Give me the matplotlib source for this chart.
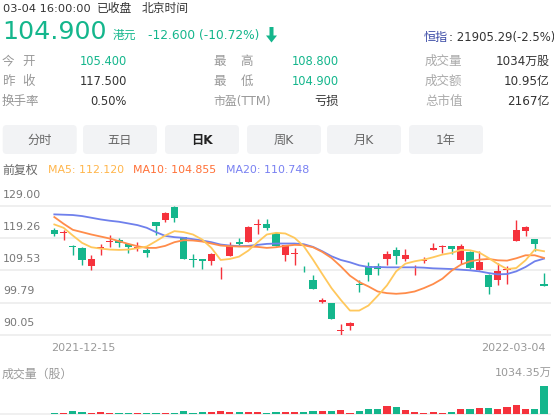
import numpy as np
import matplotlib.pyplot as plt
from matplotlib.patches import FancyBboxPatch

plt.rcParams['font.family'] = ['DejaVu Sans', 'Noto Sans CJK SC']

# daily candles, 2021-12-15 .. 2022-03-04
opens = [121.61, 120.75, 116.86, 116.35, 110.99, 116.25, 118.07, 118.78, 117.56, 116.25,
         115.74, 124.04, 124.85, 128.60, 119.59, 113.01, 112.91, 112.50, 108.36, 114.02,
         118.17, 118.27, 123.33, 123.64, 120.80, 114.33, 114.43, 110.08, 106.74, 100.06,
         99.86, 91.25, 92.87, 105.32, 110.78, 110.78, 113.11, 115.84, 113.01, 109.87,
         112.30, 115.84, 116.55, 116.86, 112.81, 115.03, 109.77, 108.26, 106.74, 109.77,
         118.58, 121.31, 119.18, 105.40]
highs = [122.22, 121.71, 117.36, 116.76, 114.33, 117.56, 120.20, 119.39, 117.77, 118.17,
         116.35, 124.24, 127.28, 129.00, 119.59, 114.53, 112.91, 114.83, 110.48, 118.17,
         119.39, 122.93, 125.15, 125.15, 121.11, 117.36, 116.35, 110.99, 108.05, 101.37,
         99.86, 93.28, 94.09, 106.74, 112.00, 111.80, 115.34, 116.55, 116.15, 111.29,
         113.52, 117.87, 117.36, 117.06, 117.67, 115.34, 115.34, 108.46, 111.80, 110.78,
         124.65, 122.93, 119.18, 108.80]
lows = [119.99, 118.68, 114.12, 111.09, 109.57, 114.33, 116.65, 116.55, 114.83, 115.34,
        113.62, 120.20, 124.24, 124.24, 113.11, 110.58, 110.08, 111.09, 106.94, 113.82,
        117.16, 118.07, 120.40, 121.71, 116.86, 112.50, 111.29, 108.96, 103.90, 99.86,
        94.90, 90.05, 91.56, 102.89, 106.43, 108.05, 111.29, 111.49, 112.30, 108.26,
        111.69, 115.64, 114.83, 114.63, 111.49, 109.97, 109.77, 102.49, 105.22, 105.52,
        118.58, 119.89, 115.34, 104.90]
closes = [120.40, 120.85, 116.65, 112.61, 113.01, 116.45, 118.27, 117.77, 116.55, 116.45,
          114.93, 122.83, 126.98, 125.46, 113.11, 112.81, 112.30, 114.53, 108.56, 117.26,
          117.46, 122.73, 123.54, 122.22, 116.86, 117.16, 114.63, 109.87, 104.00, 100.67,
          94.90, 91.45, 93.58, 105.12, 108.26, 110.08, 114.53, 113.82, 114.33, 110.08,
          112.81, 116.35, 116.76, 116.05, 117.06, 110.28, 112.00, 104.41, 109.27, 110.08,
          121.82, 122.52, 117.50, 104.90]
# volume in 万股
volumes = [24, 48, 121, 60, 36, 60, 36, 24, 48, 24,
           24, 24, 24, 24, 121, 24, 60, 60, 121, 60,
           60, 85, 85, 48, 73, 85, 61, 73, 110, 110,
           110, 134, 37, 122, 195, 195, 304, 268, 146, 61,
           37, 73, 37, 73, 170, 170, 219, 219, 183, 243,
           329, 183, 195, 1034.35]
ma5 = [123.43, 122.42, 120.09, 117.87, 116.55, 116.15, 115.84, 115.74, 115.84, 116.25,
       116.76, 118.37, 120.09, 121.41, 121.11, 120.40, 118.88, 116.35, 112.71, 113.01,
       113.72, 115.54, 118.07, 120.40, 120.90, 120.70, 119.39, 116.86, 112.81, 108.46,
       104.21, 100.67, 97.43, 97.43, 98.95, 101.88, 105.02, 109.27, 111.59, 112.30,
       112.81, 113.52, 114.33, 114.83, 115.74, 115.64, 114.93, 113.31, 111.49, 109.97,
       110.28, 112.61, 115.84, 115.34]
ma10 = [125.66, 123.64, 121.81, 121.11, 120.40, 119.79, 119.18, 118.37, 117.56, 116.86,
        116.35, 116.35, 116.96, 118.07, 118.68, 118.58, 118.27, 117.67, 117.06, 116.86,
        116.76, 116.76, 116.65, 116.35, 116.55, 116.96, 117.26, 117.16, 116.55, 115.14,
        113.31, 110.78, 107.95, 106.03, 104.71, 103.19, 102.69, 102.49, 102.69, 103.19,
        104.21, 105.42, 107.04, 109.47, 111.29, 112.30, 112.81, 113.01, 112.61, 112.50,
        113.21, 114.12, 114.12, 113.31]
ma20 = [126.47, 126.37, 126.27, 125.96, 125.46, 124.95, 124.55, 124.24, 123.74, 123.23,
        122.42, 121.11, 119.99, 119.59, 119.39, 118.98, 118.58, 118.07, 117.36, 117.06,
        116.86, 116.96, 117.26, 117.56, 117.67, 117.67, 117.67, 117.46, 116.65, 115.34,
        113.82, 112.71, 112.00, 111.09, 110.58, 110.58, 110.48, 110.48, 110.48, 110.48,
        110.38, 110.18, 110.08, 109.97, 109.77, 109.57, 109.27, 108.76, 108.36, 108.46,
        109.27, 110.58, 112.30, 113.11]
price_ticks = [129.00, 119.26, 109.53, 99.79, 90.05]
first_date, last_date = '2021-12-15', '2022-03-04'
buttons = ['分时', '五日', '日K', '周K', '月K', '1年']

RED = '#F5323C'
GREEN = '#14B68C'
GRAY = '#999999'
DARK = '#333333'
W, H = 554, 417

fig = plt.figure(figsize=(W / 100, H / 100), dpi=100)
bg = fig.add_axes([0, 0, 1, 1])
bg.set_xlim(0, W)
bg.set_ylim(H, 0)
bg.axis('off')

def frame(top, bottom, right=550):
    return [0, 1 - bottom / H, right / W, (bottom - top) / H]

def txt(x, y, s, size=8.5, color=DARK, ha='left', **kw):
    bg.text(x, y, s, fontsize=size, color=color, ha=ha, va='center', **kw)

# header
txt(3, 8.5, '03-04 16:00:00', 8.2)
txt(97, 8.5, '已收盘', 8.5)
txt(142, 8.5, '北京时间', 8.5)
txt(2, 32, '104.900', 18.3, GREEN)
txt(113, 35, '港元', 8.5, GREEN)
txt(148, 35, '-12.600 (-10.72%)', 8.8, GREEN)
bg.arrow(271.5, 27, 0, 8.5, width=4, head_width=11, head_length=7,
         length_includes_head=False, color=GREEN, lw=0)
txt(424, 37, '恒指', 8.7, '#3B4BA6')
txt(449, 37, ': 21905.29(-2.5%)', 8.4)

rows = [61.5, 81.5, 101.5]
for y, lab, val, vc in [(rows[0], '今开', '105.400', GREEN), (rows[1], '昨收', '117.500', DARK)]:
    txt(2, y, lab[0], 9, GRAY)
    txt(35, y, lab[1], 9, GRAY, ha='right')
    txt(127, y, val, 8.3, vc, ha='right')
txt(2, rows[2], '换手率', 9, GRAY)
txt(127, rows[2], '0.50%', 8.3, DARK, ha='right')
for y, lab, val, vc in [(rows[0], '最高', '108.800', GREEN), (rows[1], '最低', '104.900', GREEN)]:
    txt(213, y, lab[0], 9, GRAY)
    txt(253, y, lab[1], 9, GRAY, ha='right')
    txt(339, y, val, 8.3, vc, ha='right')
txt(213, rows[2], '市盈(TTM)', 8.6, GRAY)
txt(339, rows[2], '亏损', 8.8, DARK, ha='right')
for y, lab, val in [(rows[0], '成交量', '1034万股'), (rows[1], '成交额', '10.95亿'), (rows[2], '总市值', '2167亿')]:
    txt(425, y, lab, 9, '#AAAAAA')
    txt(550, y, val, 8.6, DARK, ha='right')

# period buttons
bx = [2.7, 83, 165, 247, 327, 409]
for x0, lab in zip(bx, buttons):
    bg.add_patch(FancyBboxPatch((x0, 125), 74, 29, boxstyle='round,pad=0,rounding_size=4',
                                fc='#F2F3F5', ec='none'))
    if lab == '日K':
        txt(x0 + 37, 140.5, lab, 8.8, '#222222', ha='center', fontweight='bold')
    else:
        txt(x0 + 37, 140.5, lab, 8.8, '#666666', ha='center')

# MA legend
txt(2, 170, '前复权', 8.6, '#666666')
txt(48, 170, 'MA5: 112.120', 7.9, '#FFB54A')
txt(133, 170, 'MA10: 104.855', 7.9, '#FF7037')
txt(226, 170, 'MA20: 110.748', 7.9, '#7880F2')

# candle chart
x = np.arange(len(opens))
o, hi, lo, c = map(np.array, (opens, highs, lows, closes))
cols = [RED if cc >= oo else GREEN for oo, cc in zip(o, c)]

ax = fig.add_axes(frame(206, 335))
ax.patch.set_alpha(0)
ax.set_xlim(-5.88, 53.65)
ax.set_ylim(price_ticks[-1], price_ticks[0])
ax.axis('off')
for v in price_ticks:
    ax.axhline(v, color='#EFEFEF', lw=1.4, zorder=0, clip_on=False)
    ax.annotate(f'{v:.2f}', xy=(0, v), xycoords=('axes fraction', 'data'),
                xytext=(3, 11.5), textcoords='offset pixels', va='center',
                fontsize=7.9, color='#777777')
ax.vlines(x, lo, hi, colors=cols, lw=1, zorder=2)
body = np.maximum(np.abs(c - o), 0.25)
ax.bar(x, body, bottom=np.minimum(o, c), width=0.78, color=cols, lw=0, zorder=2)
ax.plot(x, ma20, color='#6F80EC', lw=1.3, zorder=3)
ax.plot(x, ma10, color='#FF8C4A', lw=1.3, zorder=3)
ax.plot(x, ma5, color='#FFC85C', lw=1.3, zorder=3)

txt(51, 348, first_date, 8, GRAY)
txt(546, 348, last_date, 8, GRAY, ha='right')

# volume
txt(2, 374, '成交量（股）', 8.6, GRAY)
txt(552, 373, f'{max(volumes):.2f}万', 8, GRAY, ha='right')
ax2 = fig.add_axes(frame(384, 414))
ax2.patch.set_alpha(0)
ax2.set_xlim(-5.88, 53.65)
ax2.set_ylim(0, max(volumes) * 30 / 28.3)
ax2.axis('off')
ax2.axhline(0, color='#EEEEEE', lw=1.2, zorder=0, clip_on=False)
ax2.bar(x, volumes, width=0.78, color=cols, lw=0, zorder=2)

fig.savefig('out.png', dpi=100)
